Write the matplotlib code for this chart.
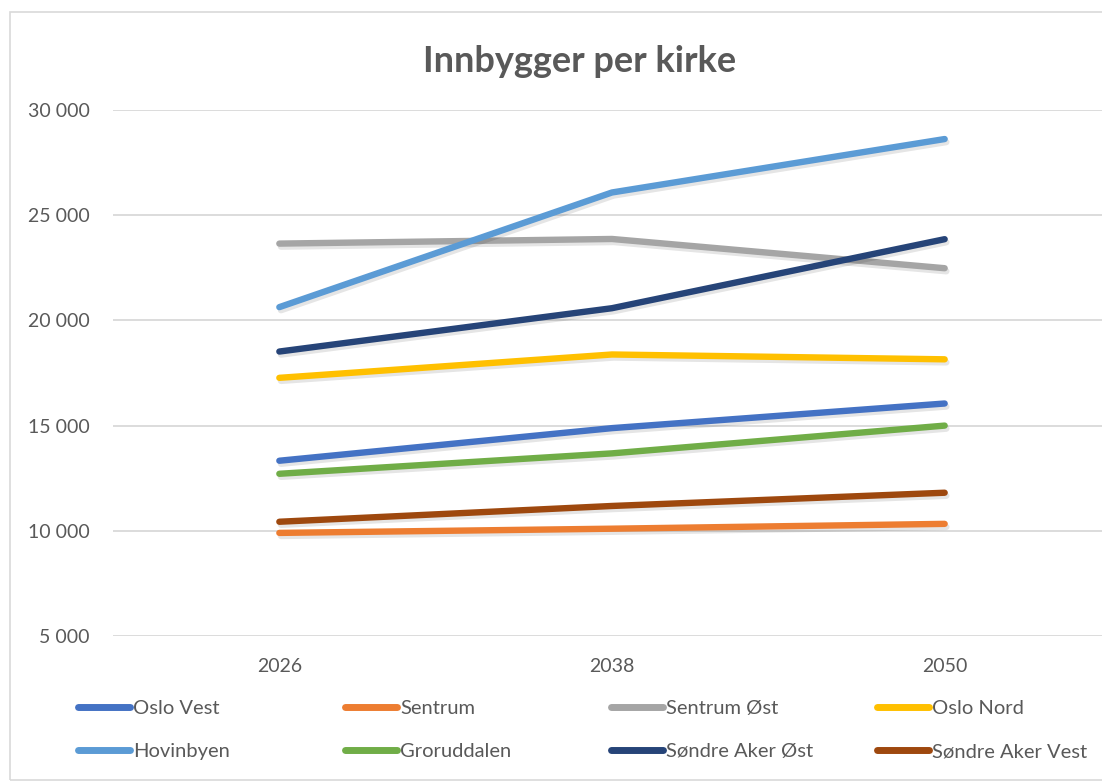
import matplotlib

matplotlib.use("Agg")
import matplotlib.pyplot as plt
import matplotlib.patheffects as pe
from matplotlib.lines import Line2D
from matplotlib.patches import Rectangle

plt.rcParams["font.family"] = ["Lato", "DejaVu Sans"]

years = ["2026", "2038", "2050"]
series_names = ["Oslo Vest", "Sentrum", "Sentrum Øst", "Oslo Nord",
                "Hovinbyen", "Groruddalen", "Søndre Aker Øst", "Søndre Aker Vest"]
oslo_vest = [13330, 14880, 16050]
sentrum = [9900, 10100, 10330]
sentrum_ost = [23650, 23870, 22480]
oslo_nord = [17270, 18380, 18150]
hovinbyen = [20630, 26080, 28620]
groruddalen = [12710, 13680, 15000]
sondre_aker_ost = [18520, 20580, 23860]
sondre_aker_vest = [10430, 11180, 11810]
colors = ["#4472C4", "#ED7D31", "#A5A5A5", "#FFC000",
          "#5B9BD5", "#70AD47", "#264478", "#9E480E"]
values = [oslo_vest, sentrum, sentrum_ost, oslo_nord,
          hovinbyen, groruddalen, sondre_aker_ost, sondre_aker_vest]
yticks = [5000, 10000, 15000, 20000, 25000, 30000]

W, H = 1102, 782
fig = plt.figure(figsize=(W / 100, H / 100), dpi=100)
fig.patches.append(Rectangle((10 / W, 2 / H), 1.2, 1 - 14 / H, transform=fig.transFigure,
                             fill=False, edgecolor="#D9D9D9", lw=1.2))

ax = fig.add_axes([113 / W, 1 - 636 / H, 998 / W, (636 - 110) / H])
shadow = [pe.SimpleLineShadow(offset=(1.2, -2.2), shadow_color="#000000", alpha=0.1),
          pe.Normal()]
x = list(range(len(years)))
for name, vals, col in zip(series_names, values, colors):
    ax.plot(x, vals, color=col, lw=4.6, solid_capstyle="round",
            solid_joinstyle="round", label=name, path_effects=shadow, zorder=3)

ax.set_xlim(-0.5, 2.5)
ax.set_ylim(5000, 30000)
ax.set_xticks(x, years)
ax.set_yticks(yticks, [f"{v:,}".replace(",", " ") for v in yticks])
ax.grid(axis="y", color="#D9D9D9", lw=1.3)
ax.set_axisbelow(True)
for s in ax.spines.values():
    s.set_visible(False)
ax.tick_params(length=0, labelsize=14, labelcolor="#595959")
ax.tick_params(axis="y", pad=17)
ax.tick_params(axis="x", pad=16)

fig.text(580 / W, 1 - 61 / H, "Innbygger per kirke", ha="center", va="center",
         fontsize=26, fontweight="bold", color="#595959")

# legend: four columns of two entries each
col_x = [78, 345, 611, 877]
for c in range(4):
    hs = []
    for r in range(2):
        i = c + 4 * r
        hs.append(Line2D([], [], color=colors[i], lw=5, solid_capstyle="round",
                         label=series_names[i]))
    fig.legend(handles=hs, loc="upper left", bbox_to_anchor=(col_x[c] / W, 1 - 700 / H),
               frameon=False, fontsize=14.5, handlelength=2.6, handletextpad=0.15,
               labelspacing=1.3, borderpad=0, borderaxespad=0, labelcolor="#595959")

fig.savefig("out.png", dpi=100)
